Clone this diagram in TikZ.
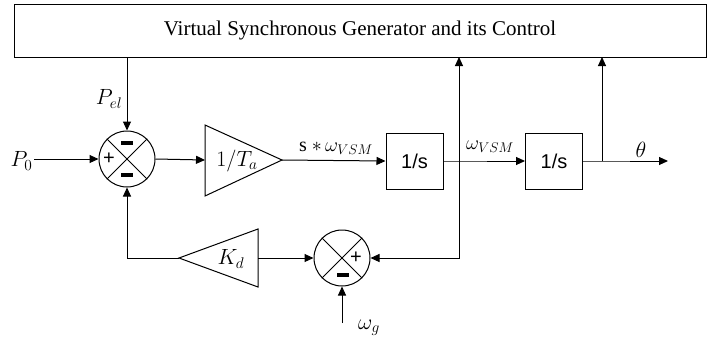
\RequirePackage{fix-cm}
\documentclass[tikz,border=0pt]{standalone}
\usepackage{fontspec}
\setmainfont{Liberation Serif}
\newfontfamily\arialf{Liberation Sans}
\usetikzlibrary{arrows.meta}
\begin{document}
\begin{tikzpicture}[x=1pt,y=-1pt,
  line width=1pt,
  arr/.style={-{Triangle[length=9pt,width=8pt]}},
  sumnode/.style={circle,draw,minimum size=56pt,inner sep=0pt},
  blk/.style={draw,minimum width=57pt,minimum height=56pt,inner sep=0pt,font=\arialf\fontsize{20}{24}\selectfont},
  lbl/.style={inner sep=0pt,font=\fontsize{22}{26}\selectfont},
  slbl/.style={inner sep=0pt,font=\fontsize{20}{24}\selectfont},
  minusbar/.style={fill=black,draw=none,minimum width=12pt,minimum height=3.5pt,inner sep=0pt}]
\useasboundingbox (0,0) rectangle (718,343);
% top box
\node[draw,minimum width=692pt,minimum height=53pt,inner sep=0pt,
  font=\fontsize{21}{24}\selectfont] (top) at (360,30.5) {Virtual Synchronous Generator and its Control};
% summing junction 1
\node[sumnode] (s1) at (127,159) {};
\draw (s1.45) -- (s1.225) (s1.135) -- (s1.315);
\node[minusbar] (s1m1) at (127,143) {};
\node[minusbar] (s1m2) at (127,175) {};
\node[inner sep=0pt,font=\arialf\fontsize{20}{22}\selectfont] (s1p) at (109,159) {+};
% inputs
\coordinate (p0s) at (34,159);
\node[lbl,anchor=east] (p0) at (33,161) {$P_0$};
\draw[arr] (p0s) -- (s1.west);
\coordinate (pelTop) at (127,57);
\node[lbl] (pel) at (109,99) {$P_{el}$};
\draw[arr] (pelTop) -- (s1.north);
% gain 1/Ta
\coordinate (t1l) at (205,160);
\coordinate (t1a) at (282,160);
\draw (205,125) -- (t1a) -- (205,196) -- cycle;
\node[lbl] (t1) at (237,161) {$1/T_a$};
\draw[arr] (s1.east) -- (t1l);
% integrators
\node[blk] (b1) at (414.5,161) {1/s};
\node[blk] (b2) at (554,161) {1/s};
\draw[arr] (t1a) -- (b1.west);
\node[slbl] (l1) at (336,148) {s $*\,\omega_{VSM}$};
\coordinate (j1) at (459,161);
\draw[arr] (b1.east) -- (j1) -- (b2.west);
\node[slbl] (l2) at (490,147) {$\omega_{VSM}$};
\coordinate (j2) at (602,161);
\coordinate (thEnd) at (668,161);
\draw[arr] (b2.east) -- (j2) -- (thEnd);
\node[lbl] (th) at (641,150) {$\theta$};
% feedback to top box
\draw[arr] (j1) -- (459,57);
\draw[arr] (j2) -- (602,57);
% summing junction 2
\node[sumnode] (s2) at (342,258) {};
\draw (s2.45) -- (s2.225) (s2.135) -- (s2.315);
\node[inner sep=0pt,font=\arialf\fontsize{20}{22}\selectfont] (s2p) at (356,258) {+};
\node[minusbar] (s2m) at (343,275) {};
\coordinate (j1b) at (459,258);
\draw[arr] (j1) -- (j1b) -- (s2.east);
\coordinate (wgs) at (342,323);
\draw[arr] (wgs) -- (s2.south);
\node[lbl] (wg) at (369,328) {$\omega_g$};
% gain Kd
\coordinate (kdr) at (258,258);
\coordinate (kda) at (179,258);
\draw (258,229) -- (kda) -- (258,287) -- cycle;
\node[lbl] (kd) at (231,259) {$K_d$};
\draw[arr] (kdr) -- (s2.west);
\coordinate (fbc) at (127,258);
\draw[arr] (kda) -- (fbc) -- (s1.south);
\end{tikzpicture}
\end{document}
